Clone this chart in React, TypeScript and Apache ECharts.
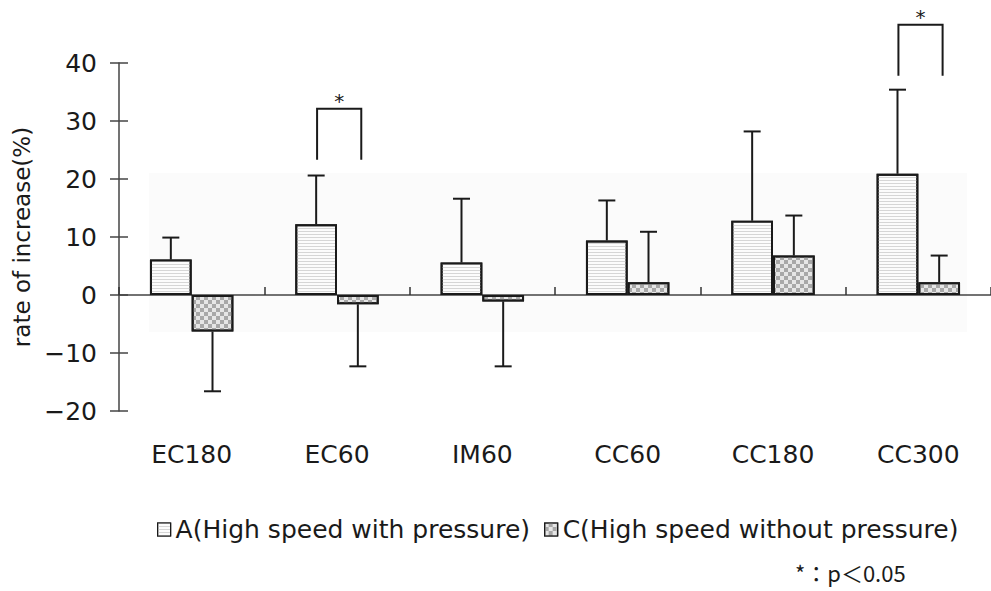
import React, { useEffect, useRef } from "react";
import * as echarts from "echarts";

const categories = ["EC180", "EC60", "IM60", "CC60", "CC180", "CC300"];
const seriesNames = ["A(High speed with pressure)", "C(High speed without pressure)"];
const aMean = [6.1, 12.2, 5.6, 9.4, 12.8, 20.9];
const aErrEnd = [9.9, 20.6, 16.6, 16.3, 28.2, 35.4];
const cMean = [-6.3, -1.6, -1.1, 2.2, 6.8, 2.2];
const cErrEnd = [-16.6, -12.3, -12.3, 10.9, 13.7, 6.8];
// significance brackets: category index, leg bottom value, top value
const bracketCat = [1, 5];
const bracketBottom = [23.3, 37.8];
const bracketTop = [32.1, 46.6];
const yTicks = { min: -20, max: 40, interval: 10 };
const noteText = "*：p＜0.05";

const FONT = "DejaVu Sans";
const INK = "#1a1a1a";

export default function App() {
  const ref = useRef<HTMLDivElement>(null);
  useEffect(() => {
    if (!ref.current) return;
    const chart = echarts.init(ref.current, null, { renderer: "svg" });
    const errData: number[][] = [];
    categories.forEach((_, i) => {
      errData.push([i, aMean[i], aErrEnd[i], -1]);
      errData.push([i, cMean[i], cErrEnd[i], 1]);
    });
    const brData = bracketCat.map((c, i) => [c, bracketBottom[i], bracketTop[i]]);
    const option: any = {
      animation: false,
      backgroundColor: "#ffffff",
      grid: { left: 119, right: -7, top: 63, bottom: 180, containLabel: false },
      graphic: [
        {
          type: "rect",
          z: -10,
          silent: true,
          shape: { x: 149, y: 173, width: 818, height: 159 },
          style: { fill: "#fbfbfb" },
        },
        {
          type: "text",
          left: 795,
          top: 561,
          style: { text: noteText, font: `22px "Noto Sans CJK JP"`, fill: INK },
        },
      ],
      legend: {
        left: 152,
        top: 512,
        itemGap: 14,
        itemWidth: 13,
        itemHeight: 13,
        icon: "rect",
        itemStyle: { borderWidth: 1.2, borderColor: INK },
        textStyle: { fontFamily: FONT, fontSize: 25, color: INK },
        data: seriesNames,
      },
      xAxis: [
        {
          type: "category",
          data: categories,
          axisLine: { onZero: true, lineStyle: { color: "#444", width: 1.5 } },
          axisTick: { show: true, inside: true, length: 8, interval: 0, lineStyle: { color: "#333", width: 1.5 } },
          axisLabel: { show: false },
          splitLine: { show: false },
        },
        {
          type: "category",
          data: categories,
          position: "bottom",
          axisLine: { show: false, onZero: false },
          axisTick: { show: false },
          axisLabel: { show: true, margin: 31, fontFamily: FONT, fontSize: 25, color: INK },
          splitLine: { show: false },
        },
      ],
      yAxis: [
        {
          type: "value",
          min: yTicks.min,
          max: yTicks.max,
          interval: yTicks.interval,
          name: "rate of increase(%)",
          nameLocation: "middle",
          nameRotate: 90,
          nameGap: 77,
          nameTextStyle: { fontFamily: FONT, fontSize: 23, color: INK },
          axisLine: { show: true, lineStyle: { color: "#444", width: 1.5 } },
          axisTick: { show: true, length: 9, lineStyle: { color: "#444", width: 1.5 } },
          axisLabel: {
            margin: 22,
            fontFamily: FONT,
            fontSize: 25,
            color: INK,
            formatter: (v: number) => (v < 0 ? "\u2212" + Math.abs(v) : String(v)),
          },
          splitLine: { show: false },
        },
        {
          type: "value",
          min: yTicks.min,
          max: yTicks.max,
          interval: yTicks.interval,
          position: "left",
          axisLine: { show: false },
          axisTick: { show: true, inside: true, length: 9, lineStyle: { color: "#444", width: 1.5 } },
          axisLabel: { show: false },
          splitLine: { show: false },
        },
      ],
      series: [
        {
          name: seriesNames[0],
          type: "bar",
          data: aMean,
          barWidth: "28.7%",
          barGap: "0%",
          z: 3,
          itemStyle: {
            color: "#fcfcfc",
            borderColor: INK,
            borderWidth: 2,
            decal: {
              symbol: "rect",
              symbolSize: 1,
              dashArrayX: [1, 0],
              dashArrayY: [1, 2],
              color: "#d6d6d6",
            },
          },
        },
        {
          name: seriesNames[1],
          type: "bar",
          data: cMean,
          barWidth: "28.7%",
          barGap: "0%",
          z: 3,
          itemStyle: {
            color: "#e6e6e6",
            borderColor: INK,
            borderWidth: 2,
            decal: {
              symbol: "rect",
              symbolSize: 1,
              dashArrayX: [[4, 4], [0, 4, 4, 0]],
              dashArrayY: [4, 0],
              color: "#a8a8a8",
            },
          },
        },
        {
          type: "custom",
          z: 4,
          clip: false,
          silent: true,
          encode: { x: 0, y: [1, 2] },
          data: errData,
          renderItem: (params: any, api: any) => {
            const cat = api.value(0);
            const mean = api.value(1);
            const end = api.value(2);
            const side = api.value(3);
            const band = api.size([1, 0])[0];
            const off = side * band * 0.1434;
            const p0 = api.coord([cat, mean]);
            const p1 = api.coord([cat, end]);
            const x = p0[0] + off;
            const st = { stroke: INK, lineWidth: 2 };
            return {
              type: "group",
              children: [
                { type: "line", shape: { x1: x, y1: p0[1], x2: x, y2: p1[1] }, style: st },
                { type: "line", shape: { x1: x - 8.5, y1: p1[1], x2: x + 8.5, y2: p1[1] }, style: st },
              ],
            };
          },
        },
        {
          type: "custom",
          z: 4,
          clip: false,
          silent: true,
          encode: { x: 0, y: [1, 2] },
          data: brData,
          renderItem: (params: any, api: any) => {
            const cat = api.value(0);
            const bot = api.value(1);
            const top = api.value(2);
            const band = api.size([1, 0])[0];
            const pb = api.coord([cat, bot]);
            const pt = api.coord([cat, top]);
            const xl = pb[0] - band * 0.137;
            const xr = pb[0] + band * 0.167;
            const st = { stroke: INK, lineWidth: 2, fill: "none" };
            return {
              type: "group",
              children: [
                {
                  type: "polyline",
                  shape: { points: [[xl, pb[1]], [xl, pt[1]], [xr, pt[1]], [xr, pb[1]]] },
                  style: st,
                },
                {
                  type: "text",
                  x: (xl + xr) / 2,
                  y: pt[1] + 2,
                  style: {
                    text: "*",
                    font: `20px ${FONT}`,
                    fill: INK,
                    align: "center",
                    verticalAlign: "bottom",
                  },
                },
              ],
            };
          },
        },
      ],
    };
    chart.setOption(option);
    return () => chart.dispose();
  }, []);
  return (
    <div
      ref={ref}
      style={{ position: "fixed", left: 0, top: 0, width: 991, height: 591, background: "#fff" }}
    />
  );
}
